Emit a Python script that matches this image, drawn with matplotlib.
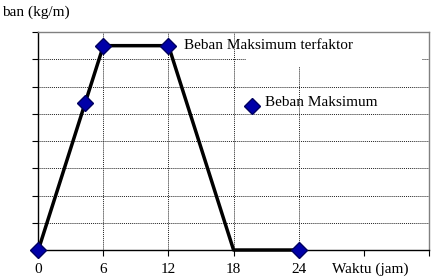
import matplotlib.pyplot as plt
from matplotlib.patches import Rectangle

plt.rcParams['font.family'] = ['Liberation Serif', 'DejaVu Serif']

# data
waktu = [0, 6, 12, 18, 24]
beban = [0, 7.5, 7.5, 0, 0]
titik_x = [0, 4.3, 6, 12, 24]
titik_y = [0, 5.4, 7.5, 7.5, 0]
maks_x = [19.7]
maks_y = [5.3]
x_ticks = [0, 6, 12, 18, 24, 30, 36]
x_labels = ['0', '6', '12', '18', '24', '', '']

fig = plt.figure(figsize=(4.32, 2.78), dpi=100)
ax = fig.add_axes([0.0887, 0.1007, 0.904, 0.784])
ax.set_xlim(0, 36)
ax.set_ylim(0, 8)

# grid
for yv in range(1, 8):
    ax.axhline(yv, color='#202020', lw=0.7, ls=(0, (1, 1)), zorder=1)
for xv in [6, 12, 18, 24]:
    ax.axvline(xv, color='#202020', lw=0.7, ls=(0, (1, 1)), zorder=1)

# kotak putih di pojok kanan atas
ax.add_patch(Rectangle((19.15, 6.7), 16.2, 1.3, facecolor='white', edgecolor='none', zorder=2))

ax.plot(waktu, beban, color='black', lw=2.5, zorder=3, clip_on=False)
ax.plot(titik_x, titik_y, ls='none', marker='D', ms=8.5, mfc='#0000a8', mec='#000060',
        zorder=4, clip_on=False)
ax.plot(maks_x, maks_y, ls='none', marker='D', ms=8.5, mfc='#0000a8', mec='#000060', zorder=4)

ax.text(13.4, 7.5, 'Beban Maksimum terfaktor', fontsize=11, va='center', ha='left', zorder=5)
ax.text(20.9, 5.4, 'Beban Maksimum', fontsize=11, va='center', ha='left', zorder=5)

ax.set_xticks(x_ticks)
ax.set_xticklabels(x_labels, fontsize=11)
ax.set_yticks(range(0, 9))
ax.set_yticklabels([])
ax.tick_params(axis='both', direction='out', length=4, width=0.8, color='black')
ax.tick_params(axis='x', pad=5.5)

ax.annotate('Waktu (jam)', xy=(27.1, 0), xycoords=('data', 'axes fraction'),
            xytext=(0, -9), textcoords='offset points', fontsize=11, ha='left', va='top')

for s in ['top', 'right']:
    ax.spines[s].set_color('#808080')
    ax.spines[s].set_linewidth(1.0)
for s in ['left', 'bottom']:
    ax.spines[s].set_color('black')
    ax.spines[s].set_linewidth(1.0)

fig.text(0.005, 1 - 12 / 278, 'ban (kg/m)', fontsize=11, ha='left', va='center')

fig.savefig('out.png', dpi=100)
